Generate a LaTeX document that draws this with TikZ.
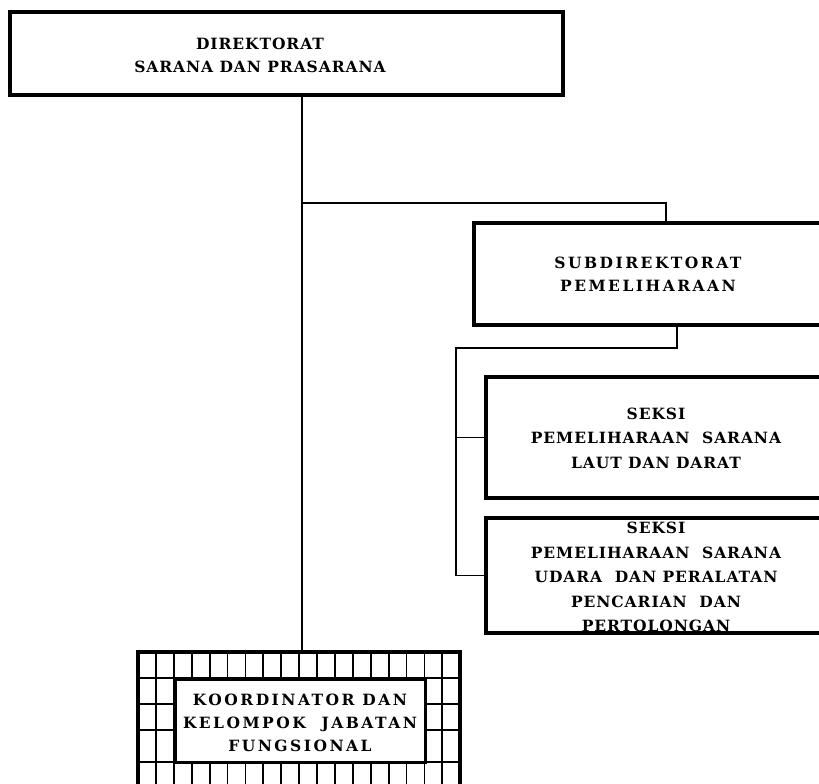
\documentclass[tikz,border=0pt]{standalone}
\usepackage{fontspec}
\setmainfont{DejaVu Serif}
\usetikzlibrary{positioning}

\begin{document}
\begin{tikzpicture}[x=1pt, y=-1pt]
    \tikzset{
        block/.style = {rectangle, draw=black, line width=3.6pt, inner sep=0pt},
        caption/.style = {align=center, inner sep=0pt,
                          font=\bfseries\fontsize{15.5}{23}\selectfont\addfontfeature{LetterSpace=6}},
        wide/.style = {caption, font=\bfseries\fontsize{15.5}{23}\selectfont\addfontfeature{LetterSpace=16}},
        seksi/.style = {caption, font=\bfseries\fontsize{15.5}{24.5}\selectfont\addfontfeature{LetterSpace=6}},
        line/.style = {line width=1.6pt},
        gridline/.style = {line width=1.8pt}
    }
    \useasboundingbox (0,0) rectangle (819,784);

    % direktorat
    \node [block, minimum width=553pt, minimum height=83pt] (dir) at (286.5,53.5) {};
    \node [caption] (dirtxt) at (260,55) {DIREKTORAT\\SARANA DAN PRASARANA};

    % subdirektorat
    \node [block, minimum width=366pt, minimum height=102pt] (sub) at (657,274) {};
    \node [wide] (subtxt) at (648,274) {SUBDIREKTORAT\\PEMELIHARAAN};

    % seksi
    \node [block, minimum width=354pt, minimum height=121pt] (laut) at (663,437.5) {};
    \node [seksi] (lauttxt) at (656,438) {SEKSI\\PEMELIHARAAN~~SARANA\\LAUT DAN DARAT};
    \node [seksi] (udaratxt) at (656,577) {SEKSI\\PEMELIHARAAN~~SARANA\\UDARA~~DAN PERALATAN\\PENCARIAN~~DAN\\PERTOLONGAN};
    \node [block, minimum width=354pt, minimum height=115pt] (udara) at (663,575.5) {};

    % kelompok jabatan fungsional
    \foreach \gx in {0,...,18}
        \draw [gridline] ({138+17.9*\gx},652) -- ({138+17.9*\gx},790);
    \foreach \gy in {652,678,704,730,762}
        \draw [gridline] (138,\gy) -- (460,\gy);
    \draw [line width=3.6pt] (138,790) -- (138,652) -- (460,652) -- (460,790);
    \node [block, line width=3pt, fill=white, minimum width=250pt, minimum height=83pt] (kor) at (300,720.5) {};
    \node [wide] (kortxt) at (300,723) {KOORDINATOR DAN\\KELOMPOK~~JABATAN\\FUNGSIONAL};

    % garis
    \coordinate (trunk) at (302,652);
    \coordinate (rail) at (456,348);
    \draw [line] (dir.south -| trunk) -- (trunk);
    \draw [line] (trunk |- 0,203) -| ([xshift=9pt]sub.north);
    \draw [line] ([xshift=20pt]sub.south) |- (rail) |- (udara.west);
    \draw [line] (rail |- laut.west) -- (laut.west);
\end{tikzpicture}
\end{document}
